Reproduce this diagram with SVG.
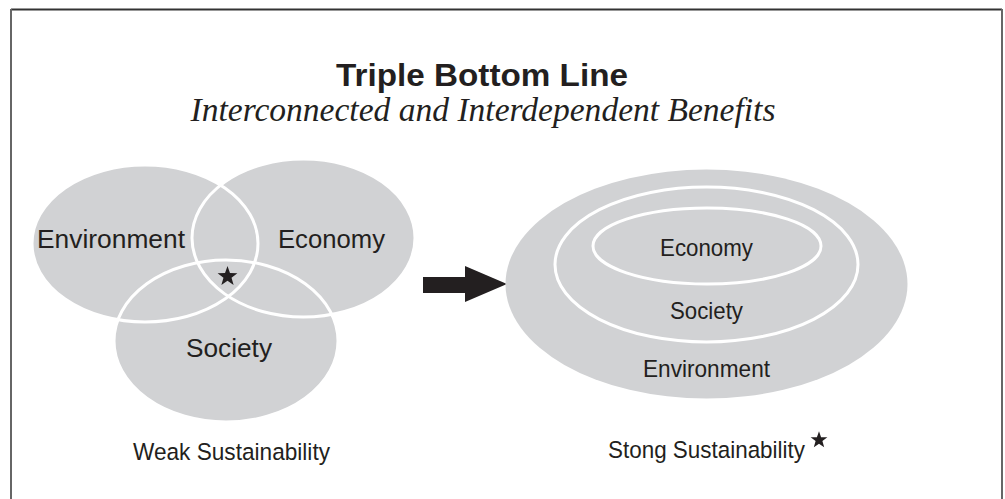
<svg xmlns="http://www.w3.org/2000/svg" width="1005" height="499" viewBox="0 0 1005 499">
<defs>
<style>
.fill{fill:#d1d2d4;}
.ring{fill:none;stroke:#ffffff;stroke-width:3;}
.lbl{font-family:"Liberation Sans",Arial,sans-serif;fill:#231f20;text-anchor:middle;}
.big{font-size:26px;}
.mid{font-size:24.5px;}
.title{font-family:"Liberation Sans",Arial,sans-serif;font-weight:bold;font-size:32px;fill:#231f20;text-anchor:middle;}
.sub{font-family:"Liberation Serif","Times New Roman",serif;font-style:italic;font-size:34px;fill:#231f20;text-anchor:middle;}
</style>
<path id="star" d="M0,-8 L1.9,-2.6 L7.6,-2.5 L3.1,1 L4.7,6.5 L0,3.3 L-4.7,6.5 L-3.1,1 L-7.6,-2.5 L-1.9,-2.6 Z" fill="#231f20"/>
</defs>
<rect width="1005" height="499" fill="#ffffff"/>
<g id="frame">
<line x1="11" y1="9.5" x2="1002" y2="9.5" stroke="#333" stroke-width="2"/>
<line x1="11" y1="9" x2="11" y2="499" stroke="#666" stroke-width="2"/>
<line x1="1002" y1="9" x2="1002" y2="499" stroke="#666" stroke-width="2"/>
</g>
<g id="title">
<text class="title" x="482" y="86" textLength="292" lengthAdjust="spacingAndGlyphs">Triple Bottom Line</text>
<text class="sub" x="483" y="121" textLength="585" lengthAdjust="spacingAndGlyphs">Interconnected and Interdependent Benefits</text>
</g>
<g id="weak">
<g id="venn-fills">
<ellipse class="fill" cx="145" cy="243.5" rx="113" ry="78.5"/>
<ellipse class="fill" cx="303.5" cy="238" rx="111.5" ry="79"/>
<ellipse class="fill" cx="226" cy="341" rx="112" ry="81"/>
</g>
<g id="venn-rings">
<ellipse class="ring" cx="145" cy="243.5" rx="113" ry="78.5"/>
<ellipse class="ring" cx="303.5" cy="238" rx="111.5" ry="79"/>
<ellipse class="ring" cx="226" cy="341" rx="112" ry="81"/>
</g>
<g id="weak-environment"><text class="lbl big" x="111" y="248" textLength="148" lengthAdjust="spacingAndGlyphs">Environment</text></g>
<g id="weak-economy"><text class="lbl big" x="331.5" y="248" textLength="107" lengthAdjust="spacingAndGlyphs">Economy</text></g>
<g id="weak-society"><text class="lbl big" x="229" y="357" textLength="86" lengthAdjust="spacingAndGlyphs">Society</text></g>
<use href="#star" transform="translate(227.5 276.5) scale(1.3)"/>
<g id="weak-label"><text class="lbl mid" x="231.5" y="460" textLength="197" lengthAdjust="spacingAndGlyphs">Weak Sustainability</text></g>
</g>
<g id="connectors">
<polygon points="423,277 465,277 465,266 507,284 465,302 465,293 423,293" fill="#231f20"/>
</g>
<g id="strong">
<g id="strong-environment">
<ellipse class="fill" cx="706.5" cy="284" rx="201" ry="114.5"/>
<text class="lbl mid" x="706.5" y="377" textLength="127" lengthAdjust="spacingAndGlyphs">Environment</text>
</g>
<g id="strong-society">
<ellipse class="ring" cx="706.5" cy="264.5" rx="151.5" ry="77.5"/>
<text class="lbl mid" x="706.5" y="319" textLength="73" lengthAdjust="spacingAndGlyphs">Society</text>
</g>
<g id="strong-economy">
<ellipse class="ring" cx="707" cy="246" rx="114" ry="38"/>
<text class="lbl mid" x="706.5" y="256" textLength="93" lengthAdjust="spacingAndGlyphs">Economy</text>
</g>
<g id="strong-label">
<text class="lbl mid" x="706.5" y="458" textLength="197" lengthAdjust="spacingAndGlyphs">Stong Sustainability</text>
<use href="#star" transform="translate(819 440) scale(1.1)"/>
</g>
</g>
</svg>
